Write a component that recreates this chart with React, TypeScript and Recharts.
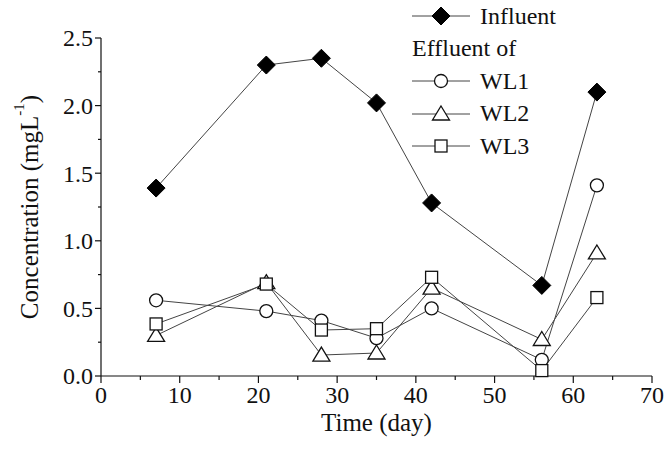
import React from "react";
import { LineChart, Line, XAxis, YAxis } from "recharts";

const DAYS = [7, 21, 28, 35, 42, 56, 63];
const INFLUENT = [1.39, 2.3, 2.35, 2.02, 1.28, 0.67, 2.1];
const WL1 = [0.56, 0.48, 0.41, 0.28, 0.5, 0.12, 1.41];
const WL2 = [0.3, 0.69, 0.155, 0.17, 0.65, 0.27, 0.91];
const WL3 = [0.385, 0.68, 0.34, 0.35, 0.73, 0.04, 0.58];

const X_TICKS = [0, 5, 10, 15, 20, 25, 30, 35, 40, 45, 50, 55, 60, 65, 70];
const Y_TICKS = [0, 0.25, 0.5, 0.75, 1, 1.25, 1.5, 1.75, 2, 2.25, 2.5];

const FONT = "'Liberation Serif', 'Times New Roman', serif";
const INK = "#111";
const LINE = "#444";

const data = DAYS.map((d, i) => ({
  day: d,
  influent: INFLUENT[i],
  wl1: WL1[i],
  wl2: WL2[i],
  wl3: WL3[i],
}));

type Shape = "diamond" | "circle" | "triangle" | "square";

function Marker({ shape, cx, cy }: { shape: Shape; cx: number; cy: number }) {
  if (shape === "diamond") {
    const r = 9;
    return (
      <polygon
        points={`${cx},${cy - r} ${cx + r},${cy} ${cx},${cy + r} ${cx - r},${cy}`}
        fill="#000"
        stroke="#000"
      />
    );
  }
  if (shape === "circle") {
    return <circle cx={cx} cy={cy} r={6.5} fill="#fff" stroke={INK} strokeWidth={1.3} />;
  }
  if (shape === "triangle") {
    return (
      <polygon
        points={`${cx},${cy - 8} ${cx + 8.5},${cy + 6} ${cx - 8.5},${cy + 6}`}
        fill="#fff"
        stroke={INK}
        strokeWidth={1.3}
      />
    );
  }
  return (
    <rect x={cx - 6} y={cy - 6} width={12} height={12} fill="#fff" stroke={INK} strokeWidth={1.3} />
  );
}

const makeDot = (shape: Shape) => (props: any) => {
  const { cx, cy, index } = props;
  return (
    <g key={`${shape}-${index}`}>
      <Marker shape={shape} cx={cx} cy={cy} />
    </g>
  );
};

const XTick = (props: any) => {
  const { x, y, payload } = props;
  const major = payload.value % 10 === 0;
  return (
    <g>
      <line x1={x} y1={y} x2={x} y2={y + (major ? 7 : 4)} stroke={INK} strokeWidth={1.2} />
      {major && (
        <text x={x} y={y + 27} textAnchor="middle" fontFamily={FONT} fontSize={24} fill={INK}>
          {payload.value}
        </text>
      )}
    </g>
  );
};

const YTick = (props: any) => {
  const { x, y, payload } = props;
  const v = payload.value;
  const major = Math.abs(v * 2 - Math.round(v * 2)) < 1e-6;
  return (
    <g>
      <line x1={x} y1={y} x2={x - (major ? 6 : 3)} y2={y} stroke={INK} strokeWidth={1.2} />
      {major && (
        <text x={x - 8} y={y} dy="0.35em" textAnchor="end" fontFamily={FONT} fontSize={24} fill={INK}>
          {v.toFixed(1)}
        </text>
      )}
    </g>
  );
};

const YLabel = (props: any) => {
  const vb = props.viewBox || { x: 0, y: 38, width: 101, height: 338 };
  const cx = vb.x + 29;
  const cy = vb.y + vb.height / 2;
  return (
    <text
      x={cx}
      y={cy}
      transform={`rotate(-90 ${cx} ${cy})`}
      textAnchor="middle"
      dominantBaseline="central"
      fontFamily={FONT}
      fontSize={25}
      fill={INK}
    >
      Concentration (mgL
      <tspan fontSize={15} dy={-10}>-1</tspan>
      <tspan dy={10}>)</tspan>
    </text>
  );
};

const XLabel = (props: any) => {
  const vb = props.viewBox || { x: 101, y: 376, width: 551, height: 83 };
  return (
    <text
      x={vb.x + vb.width / 2}
      y={vb.y + 55}
      textAnchor="middle"
      fontFamily={FONT}
      fontSize={25}
      fill={INK}
    >
      Time (day)
    </text>
  );
};

const LEGEND_ROWS: Array<{ label: string; shape?: Shape }> = [
  { label: "Influent", shape: "diamond" },
  { label: "Effluent of" },
  { label: "WL1", shape: "circle" },
  { label: "WL2", shape: "triangle" },
  { label: "WL3", shape: "square" },
];

const LegendBox = () => (
  <div
    style={{
      position: "absolute",
      left: 412,
      top: 0,
      fontFamily: FONT,
      fontSize: 24,
      color: INK,
    }}
  >
    {LEGEND_ROWS.map((r) => (
      <div key={r.label} style={{ display: "flex", alignItems: "center", height: 32.5 }}>
        {r.shape && (
          <svg width={68} height={24} style={{ display: "block" }}>
            <line x1={0} y1={12} x2={58} y2={12} stroke={LINE} strokeWidth={1} />
            <Marker shape={r.shape} cx={29} cy={12} />
          </svg>
        )}
        <span>{r.label}</span>
      </div>
    ))}
  </div>
);

export default function App() {
  return (
    <div style={{ position: "absolute", left: 0, top: 0, width: 665, height: 459, background: "#fff" }}>
      <LineChart
        width={665}
        height={459}
        data={data}
        margin={{ top: 38, right: 13, left: 0, bottom: 0 }}
      >
        <XAxis
          type="number"
          dataKey="day"
          domain={[0, 70]}
          ticks={X_TICKS}
          interval={0}
          height={83}
          tickSize={0}
          tickMargin={0}
          tick={<XTick />}
          axisLine={{ stroke: INK, strokeWidth: 1.2 }}
          label={{ content: <XLabel /> }}
        />
        <YAxis
          type="number"
          domain={[0, 2.5]}
          ticks={Y_TICKS}
          interval={0}
          width={101}
          tickSize={0}
          tickMargin={0}
          tick={<YTick />}
          axisLine={{ stroke: INK, strokeWidth: 1.2 }}
          label={{ content: <YLabel /> }}
        />
        <Line dataKey="wl1" stroke={LINE} strokeWidth={1} dot={makeDot("circle")} isAnimationActive={false} />
        <Line dataKey="wl2" stroke={LINE} strokeWidth={1} dot={makeDot("triangle")} isAnimationActive={false} />
        <Line dataKey="wl3" stroke={LINE} strokeWidth={1} dot={makeDot("square")} isAnimationActive={false} />
        <Line dataKey="influent" stroke={LINE} strokeWidth={1} dot={makeDot("diamond")} isAnimationActive={false} />
      </LineChart>
      <LegendBox />
    </div>
  );
}
